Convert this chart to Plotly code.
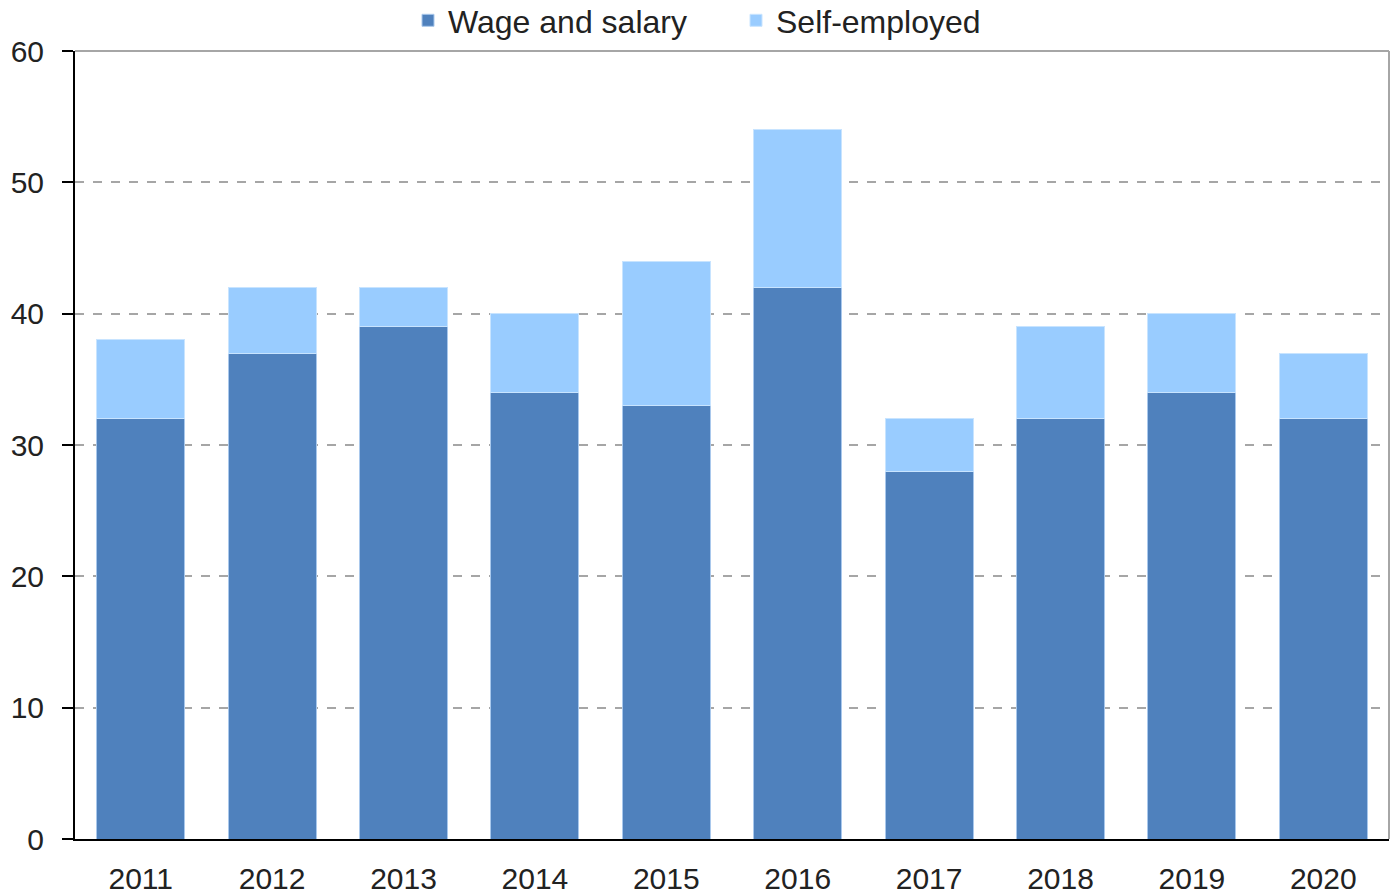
import plotly.graph_objects as go

years = ["2011", "2012", "2013", "2014", "2015", "2016", "2017", "2018", "2019", "2020"]
wage_salary = [32, 37, 39, 34, 33, 42, 28, 32, 34, 32]
self_employed = [6, 5, 3, 6, 11, 12, 4, 7, 6, 5]
y_ticks = [0, 10, 20, 30, 40, 50, 60]

FONT = "Liberation Sans, Arial, sans-serif"

fig = go.Figure()
fig.add_trace(go.Bar(
    x=years, y=wage_salary, name="Wage and salary",
    marker=dict(color="#4F81BD", line=dict(color="#A9C8EC", width=1)),
))
fig.add_trace(go.Bar(
    x=years, y=self_employed, name="Self-employed",
    marker=dict(color="#99CCFF", line=dict(color="#C8E4FF", width=1)),
))

fig.update_layout(
    barmode="stack",
    bargap=0.33,
    width=1395, height=894,
    margin=dict(l=75, r=6, t=51, b=55, autoexpand=False),
    paper_bgcolor="white", plot_bgcolor="white",
    font=dict(family=FONT, size=30, color="#222222"),
    showlegend=True,
    legend=dict(orientation="h", x=(408 - 75) / 1314, xanchor="left",
                y=1 + 58 / 788, yanchor="top",
                font=dict(size=32), itemwidth=30, traceorder="normal",
                entrywidth=283,
                bgcolor="rgba(0,0,0,0)"),
)
fig.update_xaxes(
    showline=True, linecolor="black", linewidth=2, automargin=False,
    ticks="", showgrid=False, ticklabelstandoff=12,
    tickfont=dict(size=30),
)
fig.update_yaxes(
    range=[0, 60], tickvals=y_ticks, automargin=False,
    showline=True, linecolor="black", linewidth=2,
    ticks="outside", ticklen=11, tickcolor="black", tickwidth=2,
    ticklabelstandoff=12,
    showgrid=True, gridcolor="#A6A6A6", griddash="dash", gridwidth=1.5,
    zeroline=False, tickfont=dict(size=30),
)
# solid top border and right border of plot area
fig.add_shape(type="line", xref="paper", yref="paper", x0=0, x1=1, y0=1, y1=1,
              line=dict(color="#A6A6A6", width=2))
fig.add_shape(type="line", xref="paper", yref="paper", x0=1, x1=1, y0=0, y1=1,
              line=dict(color="#A6A6A6", width=2))

fig.write_html(
    "out.html",
    config={"displayModeBar": False},
    post_script="document.body.style.margin='0';document.body.style.overflow='hidden';",
)
